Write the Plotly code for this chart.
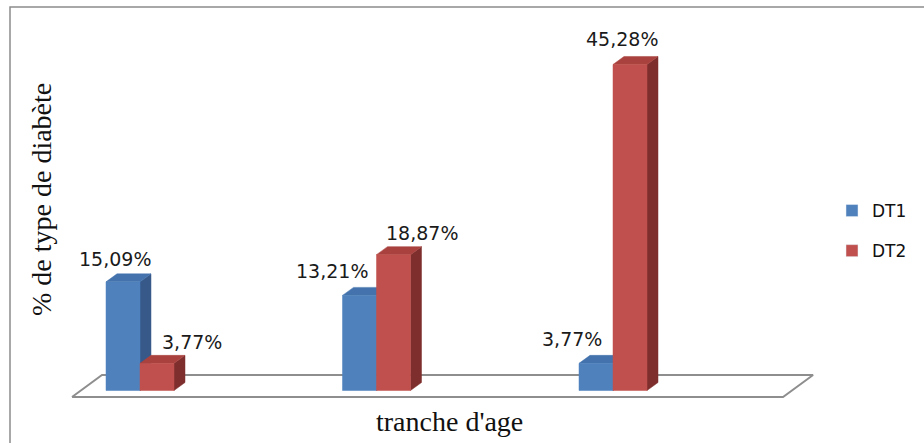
import plotly.graph_objects as go

# ---- data -------------------------------------------------------------
groups = ["G1", "G2", "G3"]          # age brackets (not labelled on the axis)
series_names = ["DT1", "DT2"]
dt1 = [15.09, 13.21, 3.77]
dt2 = [3.77, 18.87, 45.28]

# ---- style ------------------------------------------------------------
W, H = 924, 443
ML, MR, MT, MB = 60, 94, 20, 23
PX_X = 236.5          # pixels per group step
PX_Y = 7.2            # pixels per percent
X0_PX, BASE_PX = 140, 390.5

front = {"DT1": "#4F81BD", "DT2": "#C0504D"}
top_c = {"DT1": "#4372AC", "DT2": "#A9423F"}
side_c = {"DT1": "#37598A", "DT2": "#7E2F2D"}

bar_w = 34 / PX_X
DX = 11 / PX_X
DY = 8 / PX_Y

# label offsets in pixels (x, y) relative to the front-top centre of each bar
lab_off = {"DT1": [(-8, 23), (-28, 24), (-24, 24)],
           "DT2": [(35, 21), (28, 22), (-8, 25)]}

plot_w = W - ML - MR
plot_h = H - MT - MB
xr = [(ML - X0_PX) / PX_X, (ML + plot_w - X0_PX) / PX_X]
yr = [(BASE_PX - (MT + plot_h)) / PX_Y, (BASE_PX - MT) / PX_Y]


def paper_x(px):
    return (px - ML) / plot_w


def paper_y(py):
    return (MT + plot_h - py) / plot_h


fig = go.Figure()

# floor of the 3-D plot
n = len(groups)
fl_front = (-0.2875, n - 1 + 0.719, -0.9)
fl_back = (-0.1607, n - 1 + 0.846, 2.15)
fig.add_trace(go.Scatter(
    x=[fl_front[0], fl_front[1], fl_back[1], fl_back[0], fl_front[0]],
    y=[fl_front[2], fl_front[2], fl_back[2], fl_back[2], fl_front[2]],
    mode="lines", fill="toself", fillcolor="white",
    line=dict(color="#8E8E8E", width=2),
    hoverinfo="skip", showlegend=False))


def add_box(x0, v, name):
    x1 = x0 + bar_w
    # side face
    fig.add_trace(go.Scatter(
        x=[x1, x1, x1 + DX, x1 + DX, x1], y=[0, v, v + DY, DY, 0],
        mode="lines", fill="toself", fillcolor=side_c[name],
        line=dict(color=side_c[name], width=0.5),
        hoverinfo="skip", showlegend=False))
    # top face
    fig.add_trace(go.Scatter(
        x=[x0, x1, x1 + DX, x0 + DX, x0], y=[v, v, v + DY, v + DY, v],
        mode="lines", fill="toself", fillcolor=top_c[name],
        line=dict(color=top_c[name], width=0.5),
        hoverinfo="skip", showlegend=False))
    # front face
    fig.add_trace(go.Scatter(
        x=[x0, x1, x1, x0, x0], y=[0, 0, v, v, 0],
        mode="lines", fill="toself", fillcolor=front[name],
        line=dict(color=front[name], width=0.5),
        hoverinfo="skip", showlegend=False))


for i in range(n):
    for name, vals, x0 in (("DT1", dt1, i - bar_w), ("DT2", dt2, i)):
        add_box(x0, vals[i], name)

# data labels
for name, vals, sgn in (("DT1", dt1, -1), ("DT2", dt2, 1)):
    for i, v in enumerate(vals):
        dx, dy = lab_off[name][i]
        fig.add_annotation(
            x=i + sgn * bar_w / 2, y=v, xref="x", yref="y",
            text=f"{v:.2f}".replace(".", ",") + "%",
            showarrow=False, xshift=dx, yshift=dy,
            xanchor="center", yanchor="middle",
            font=dict(family="DejaVu Sans", size=19, color="#1a1a1a"))

# legend entries
for name in series_names:
    fig.add_trace(go.Bar(x=[None], y=[None], name=name,
                         marker=dict(color=front[name]), legendgroup=name))

# axis titles
fig.add_annotation(x=paper_x(449), y=paper_y(421), xref="paper", yref="paper",
                   text="tranche d'age", showarrow=False,
                   xanchor="center", yanchor="middle",
                   font=dict(family="Liberation Serif", size=28, color="#111"))
fig.add_annotation(x=paper_x(42), y=paper_y(200), xref="paper", yref="paper",
                   text="% de type de diabète", showarrow=False, textangle=-90,
                   xanchor="center", yanchor="middle",
                   font=dict(family="Liberation Serif", size=28, color="#111"))

# chart border
fig.add_shape(type="rect", xref="paper", yref="paper",
              x0=paper_x(10), x1=paper_x(940), y0=paper_y(460), y1=paper_y(7),
              line=dict(color="#8C8C8C", width=1.5), fillcolor="rgba(0,0,0,0)")

fig.update_layout(
    width=W, height=H,
    margin=dict(l=ML, r=MR, t=MT, b=MB),
    paper_bgcolor="white", plot_bgcolor="white",
    xaxis=dict(range=xr, visible=False, fixedrange=True),
    yaxis=dict(range=yr, visible=False, fixedrange=True),
    barmode="overlay",
    showlegend=True,
    legend=dict(x=paper_x(832), y=paper_y(231), xanchor="left", yanchor="middle",
                font=dict(family="DejaVu Sans", size=17, color="#111"),
                tracegroupgap=15, traceorder="grouped",
                bgcolor="rgba(0,0,0,0)"),
)

fig.write_html("out.html")
